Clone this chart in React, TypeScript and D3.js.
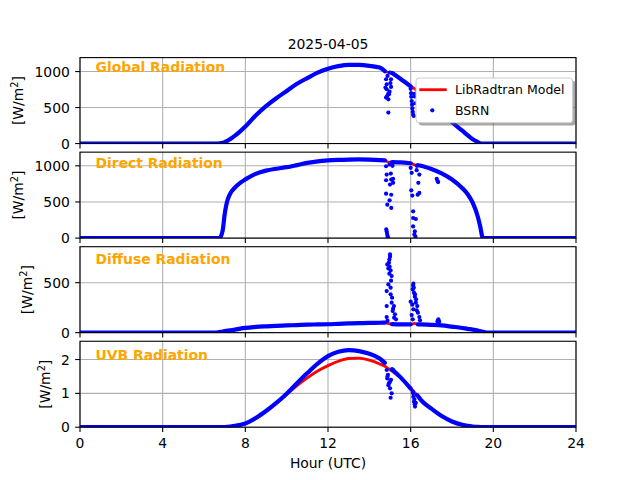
import React from 'react';
import * as d3 from 'd3';

const DATE_TITLE = '2025-04-05';
const PANEL_TITLES = ['Global Radiation', 'Direct Radiation', 'Diffuse Radiation', 'UVB Radiation'];
const X_TICKS = [0, 4, 8, 12, 16, 20, 24];
const Y_LIMITS = [1194, 1189, 860, 2.54];
const Y_TICKS = [[0, 500, 1000], [0, 500, 1000], [0, 500], [0, 1, 2]];
const LEGEND_LABELS = ['LibRadtran Model', 'BSRN'];

// shared time grid (hours UTC)
const HOURS = [0, 6.5, 6.75, 6.9, 7, 7.1, 7.25, 7.5, 7.75, 8, 8.5, 9, 9.5, 10, 10.5, 11, 11.5, 12, 12.5, 13, 13.5, 14, 14.5, 14.75, 14.9, 15.1, 15.5, 16, 16.2, 16.35, 16.5, 17, 17.5, 18, 18.5, 18.75, 19, 19.25, 19.35, 19.5, 19.75, 20, 24];

const GLOBAL_MODEL = [0, 0, 3, 10, 20, 32, 58, 110, 170, 236, 390, 520, 630, 730, 830, 910, 985, 1040, 1075, 1092, 1092, 1080, 1055, 1005, 990, 980, 900, 795, 760, 725, 680, 550, 420, 296, 178, 118, 60, 20, 5, 0, 0, 0, 0];
const GLOBAL_BSRN = [0, 0, 3, 10, 20, 32, 58, 110, 170, 236, 390, 520, 630, 730, 830, 910, 985, 1040, 1075, 1092, 1092, 1080, 1055, 1005, null, 980, 900, 795, null, 725, 680, 550, 420, 296, 178, 118, 60, 20, 5, 0, 0, 0, 0];

const DIRECT_MODEL = [0, 0, 0, 100, 330, 486, 605, 700, 765, 812, 888, 933, 960, 981, 1010, 1040, 1062, 1075, 1082, 1086, 1088, 1086, 1080, 1075, 1052, 1052, 1048, 1035, 1012, 1008, 1000, 955, 895, 810, 690, 610, 490, 295, 180, 0, 0, 0, 0];
const DIRECT_BSRN = [0, 0, 0, 100, 330, 486, 605, 700, 765, 812, 888, 933, 960, 981, 1010, 1040, 1062, 1075, 1082, 1086, 1088, 1086, 1080, 1075, null, 1052, 1048, 1035, null, 1008, 1000, 955, 895, 810, 690, 610, 490, 295, 180, 0, 0, 0, 0];

const DIFFUSE_MODEL = [0, 0, 6, 10, 15, 18, 23, 30, 40, 48, 57, 63, 68, 72, 76, 80, 82, 84, 88, 92, 95, 97, 99, 100, 93, 85, 83, 83, 92, 83, 82, 78, 72, 60, 47, 38, 30, 20, 15, 8, 0, 0, 0];
const DIFFUSE_BSRN = [0, 0, 6, 10, 15, 18, 23, 30, 40, 48, 57, 63, 68, 72, 76, 80, 82, 84, 88, 92, 95, 97, 99, 100, null, 85, 83, 83, null, 83, 82, 78, 72, 60, 47, 38, 30, 20, 15, 8, 0, 0, 0];

const UVB_MODEL = [0, 0, 0, 0, 0.004, 0.008, 0.015, 0.035, 0.065, 0.1, 0.25, 0.47, 0.71, 0.97, 1.23, 1.46, 1.66, 1.82, 1.95, 2.03, 2.04, 1.98, 1.87, 1.8, 1.74, 1.66, 1.47, 1.16, 1.02, 0.93, 0.82, 0.55, 0.33, 0.16, 0.06, 0.035, 0.015, 0.005, 0, 0, 0, 0, 0];
const UVB_BSRN = [0, 0, 0, 0, 0.005, 0.01, 0.02, 0.04, 0.07, 0.11, 0.27, 0.48, 0.72, 0.99, 1.3, 1.6, 1.88, 2.1, 2.23, 2.28, 2.25, 2.17, 2.03, 1.9, null, 1.7, 1.48, 1.14, null, 0.92, 0.8, 0.55, 0.33, 0.17, 0.07, 0.04, 0.02, 0.01, 0.005, 0, 0, 0, 0];

// scattered BSRN samples during cloud passages
const GLOBAL_CLOUD_H = [14.78, 14.81, 14.81, 14.84, 14.84, 14.86, 14.88, 14.92, 14.92, 14.92, 14.95, 14.98, 15.0, 15.02, 15.05, 15.05, 16.0, 16.02, 16.03, 16.05, 16.07, 16.08, 16.1, 16.12, 16.15, 16.2, 16.22, 16.18];
const GLOBAL_CLOUD_V = [778, 893, 639, 824, 754, 660, 940, 694, 615, 430, 685, 720, 986, 840, 893, 786, 760, 700, 650, 590, 540, 490, 440, 400, 383, 655, 560, 690];

const DIRECT_CLOUD_H = [14.81, 14.84, 14.81, 14.81, 14.87, 14.82, 14.84, 14.86, 14.88, 14.9, 14.98, 15.04, 15.06, 15.0, 15.06, 14.98, 15.06, 15.15, 15.15, 15.1, 15.12, 16.0, 16.05, 16.03, 16.08, 16.12, 16.12, 16.25, 16.12, 16.2, 16.23, 16.18, 16.29, 16.37, 16.42, 16.34, 16.42, 16.3, 17.26, 17.3, 17.33];
const DIRECT_CLOUD_V = [994, 879, 800, 615, 462, 120, 90, 60, 30, 10, 1018, 893, 810, 740, 600, 522, 417, 820, 764, 1040, 1000, 972, 903, 661, 588, 370, 278, 264, 161, 92, 22, 50, 939, 764, 625, 601, 879, 1000, 820, 790, 775];

const DIFFUSE_CLOUD_H = [15.0, 14.97, 14.87, 14.92, 15.03, 14.97, 15.08, 14.92, 15.03, 14.84, 15.03, 15.08, 14.84, 15.19, 15.13, 15.24, 14.84, 15.29, 14.95, 15.0, 14.98, 15.05, 15.1, 15.15, 15.2, 14.88, 16.13, 16.1, 16.21, 16.26, 16.0, 16.32, 16.13, 16.29, 16.05, 16.42, 16.1, 16.45, 16.12, 16.16, 16.2, 16.08, 16.25, 16.35, 16.15, 17.34, 17.3, 17.38];
const DIFFUSE_CLOUD_V = [783, 733, 683, 643, 623, 590, 566, 483, 450, 416, 383, 300, 266, 266, 216, 183, 156, 133, 700, 760, 660, 520, 350, 240, 150, 120, 490, 433, 383, 333, 310, 266, 233, 223, 176, 156, 133, 123, 470, 400, 360, 280, 300, 200, 450, 133, 115, 110];

const UVB_CLOUD_H = [14.84, 14.87, 15.0, 14.92, 15.0, 15.08, 15.03, 14.9, 14.95, 15.16, 15.1, 15.05, 14.88, 16.1, 16.13, 16.16, 16.21, 16.18, 16.25, 16.3, 16.12, 16.2];
const UVB_CLOUD_V = [1.69, 1.44, 1.34, 1.24, 1.15, 1.0, 0.87, 1.55, 1.3, 1.69, 1.72, 1.4, 1.5, 1.05, 0.9, 0.75, 0.61, 0.82, 0.72, 0.95, 1.0, 0.68];

const FONT = "'DejaVu Sans', sans-serif";
const BLUE = '#0000ff';
const RED = '#ff0000';
const ORANGE = '#ffa500';
const GRID = '#b0b0b0';

export default function App() {
  const W = 640, H = 480;
  const left = 80, right = 576;
  const top0 = 57.6, ph = 85.95, gap = 8.6;
  const tickLen = 4.86;
  const x = d3.scaleLinear().domain([0, 24]).range([left, right]);

  const panels = [
    { model: GLOBAL_MODEL, bsrn: GLOBAL_BSRN, ch: GLOBAL_CLOUD_H, cv: GLOBAL_CLOUD_V, labelX: 23.4, titleDy: 14.1 },
    { model: DIRECT_MODEL, bsrn: DIRECT_BSRN, ch: DIRECT_CLOUD_H, cv: DIRECT_CLOUD_V, labelX: 23.4, titleDy: 16.1 },
    { model: DIFFUSE_MODEL, bsrn: DIFFUSE_BSRN, ch: DIFFUSE_CLOUD_H, cv: DIFFUSE_CLOUD_V, labelX: 31.9, titleDy: 17.3 },
    { model: UVB_MODEL, bsrn: UVB_BSRN, ch: UVB_CLOUD_H, cv: UVB_CLOUD_V, labelX: 49.9, titleDy: 18.7 },
  ];

  return (
    <div style={{ position: 'fixed', left: 0, top: 0, width: W, height: H, background: '#fff' }}>
      <svg width={W} height={H} viewBox={`0 0 ${W} ${H}`} style={{ display: 'block', fontFamily: FONT }}>
        <rect x={0} y={0} width={W} height={H} fill="#fff" />
        <defs>
          {panels.map((p, k) => {
            const top = top0 + k * (ph + gap);
            return (
              <clipPath id={`clip${k}`} key={k}>
                <rect x={left} y={top} width={right - left} height={ph} />
              </clipPath>
            );
          })}
        </defs>
        <text x={(left + right) / 2} y={48.5} textAnchor="middle" fontSize={13.9} fill="#000">{DATE_TITLE}</text>
        {panels.map((p, k) => {
          const top = top0 + k * (ph + gap);
          const bottom = top + ph;
          const y = d3.scaleLinear().domain([0, Y_LIMITS[k]]).range([bottom, top]);
          const modelLine = d3.line<number>()
            .x((_, i) => x(HOURS[i]))
            .y((d) => y(d))
            .curve(d3.curveMonotoneX);
          const bsrnLine = d3.line<number | null>()
            .defined((d) => d !== null)
            .x((_, i) => x(HOURS[i]))
            .y((d) => y(d as number))
            .curve(d3.curveMonotoneX);
          const isLast = k === panels.length - 1;
          return (
            <g key={k}>
              {X_TICKS.map((t) => (
                <line key={'gx' + t} x1={x(t)} x2={x(t)} y1={top} y2={bottom} stroke={GRID} strokeWidth={1.1} />
              ))}
              {Y_TICKS[k].map((t) => (
                <line key={'gy' + t} x1={left} x2={right} y1={y(t)} y2={y(t)} stroke={GRID} strokeWidth={1.1} />
              ))}
              <g clipPath={`url(#clip${k})`}>
                <path d={modelLine(p.model) || ''} fill="none" stroke={RED} strokeWidth={2.8} strokeLinejoin="round" strokeLinecap="round" />
                <path d={bsrnLine(p.bsrn) || ''} fill="none" stroke={BLUE} strokeWidth={4.2} strokeLinejoin="round" strokeLinecap="round" />
                {p.ch.map((h, i) => (
                  <circle key={i} cx={x(h)} cy={y(p.cv[i])} r={2.1} fill={BLUE} />
                ))}
              </g>
              <rect x={left} y={top} width={right - left} height={ph} fill="none" stroke="#000" strokeWidth={1.1} />
              {X_TICKS.map((t) => (
                <line key={'tx' + t} x1={x(t)} x2={x(t)} y1={bottom} y2={bottom + tickLen} stroke="#000" strokeWidth={1.1} />
              ))}
              {isLast && X_TICKS.map((t) => (
                <text key={'lx' + t} x={x(t)} y={bottom + 20.8} textAnchor="middle" fontSize={13.9} fill="#000">{t}</text>
              ))}
              {Y_TICKS[k].map((t) => (
                <g key={'ty' + t}>
                  <line x1={left - tickLen} x2={left} y1={y(t)} y2={y(t)} stroke="#000" strokeWidth={1.1} />
                  <text x={left - 2 * tickLen - 0.4} y={y(t) + 5} textAnchor="end" fontSize={13.9} fill="#000">{t}</text>
                </g>
              ))}
              <text transform={`translate(${p.labelX},${(top + bottom) / 2}) rotate(-90)`} textAnchor="middle" fontSize={13.9} fill="#000">
                [W/m<tspan baselineShift="super" fontSize={9.7}>2</tspan>]
              </text>
              <text x={95.5} y={top + p.titleDy} fontSize={13.9} fontWeight="bold" fill={ORANGE}>{PANEL_TITLES[k]}</text>
            </g>
          );
        })}
        <text x={(left + right) / 2} y={468} textAnchor="middle" fontSize={13.9} fill="#000">Hour (UTC)</text>
        <g>
          <rect x={418.8} y={80.8} width={156.7} height={44.7} rx={3} fill="#4d4d4d" opacity={0.5} />
          <rect x={416} y={78} width={156.7} height={44.7} rx={3} fill="#fff" stroke="#cccccc" strokeWidth={1} />
          <line x1={419.3} x2={446.7} y1={89.7} y2={89.7} stroke={RED} strokeWidth={2.8} />
          <text x={455} y={93.9} fontSize={12.5} fill="#000">{LEGEND_LABELS[0]}</text>
          <circle cx={432.3} cy={110.3} r={2.1} fill={BLUE} />
          <text x={455} y={114.5} fontSize={12.5} fill="#000">{LEGEND_LABELS[1]}</text>
        </g>
      </svg>
    </div>
  );
}
